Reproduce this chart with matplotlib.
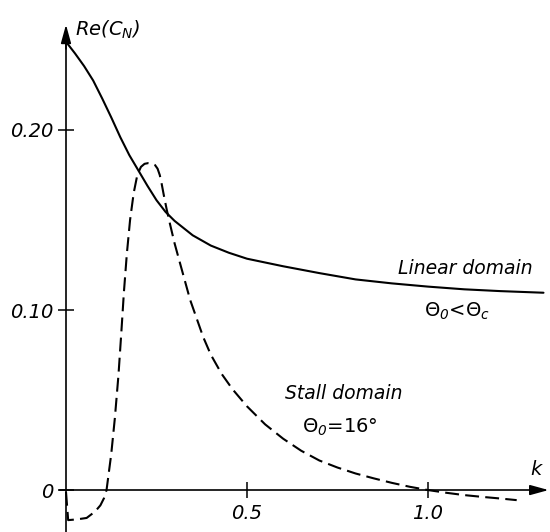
import matplotlib
matplotlib.use("Agg")
import matplotlib.pyplot as plt

plt.rcParams['font.family'] = ['DejaVu Sans']
plt.rcParams['mathtext.fontset'] = 'custom'
plt.rcParams['mathtext.it'] = 'DejaVu Sans:italic'
plt.rcParams['mathtext.rm'] = 'DejaVu Sans:italic'
plt.rcParams['lines.scale_dashes'] = False

# Linear domain (solid)
k_linear = [0.0, 0.025, 0.05, 0.075, 0.10, 0.125, 0.15, 0.175, 0.2, 0.225,
            0.25, 0.275, 0.3, 0.35, 0.4, 0.45, 0.5, 0.6, 0.7, 0.8,
            0.9, 1.0, 1.1, 1.2, 1.319]
c_linear = [0.249, 0.2425, 0.2355, 0.2275, 0.2175, 0.207, 0.196, 0.186, 0.1775, 0.169,
            0.161, 0.1545, 0.1495, 0.1415, 0.1358, 0.1318, 0.1285, 0.1243, 0.1205, 0.117,
            0.1148, 0.113, 0.1115, 0.1105, 0.1096]

# Stall domain (dashed)
k_stall = [0.0, 0.006, 0.03, 0.057, 0.08, 0.095, 0.105, 0.112, 0.125, 0.135,
           0.145, 0.153, 0.16, 0.168, 0.177, 0.187, 0.197, 0.207, 0.217, 0.227,
           0.237, 0.246, 0.253, 0.259, 0.264, 0.27, 0.278, 0.287, 0.3, 0.315,
           0.343, 0.379, 0.4, 0.43, 0.46, 0.5, 0.55, 0.6, 0.65, 0.7,
           0.75, 0.8, 0.85, 0.9, 0.95, 1.0, 1.05, 1.1, 1.15, 1.2,
           1.245]
c_stall = [-0.001, -0.0167, -0.0163, -0.0155, -0.012, -0.0085, -0.0045, 0.0, 0.02, 0.04,
           0.064, 0.088, 0.11, 0.131, 0.150, 0.165, 0.175, 0.1795, 0.1812, 0.1816,
           0.1814, 0.1805, 0.1785, 0.175, 0.1704, 0.164, 0.156, 0.148, 0.137, 0.126,
           0.1056, 0.085, 0.0752, 0.0645, 0.056, 0.0465, 0.0365, 0.0285, 0.0218, 0.0164,
           0.0125, 0.0092, 0.0065, 0.004, 0.0018, 0.0, -0.0015, -0.0028, -0.0038, -0.0047,
           -0.0056]

xticks = [0.5, 1.0]
xticklabels = ['0.5', '1.0']
yticks = [0.0, 0.10, 0.20]
yticklabels = ['0', '0.10', '0.20']

fig = plt.figure(figsize=(5.5, 5.32), dpi=100)
ax = fig.add_axes([0, 0, 1, 1])
ax.set_xlim(-0.1823, 1.337)
ax.set_ylim(-0.0233, 0.2722)

for s in ['top', 'right']:
    ax.spines[s].set_visible(False)
ax.spines['left'].set_position(('data', 0))
ax.spines['bottom'].set_position(('data', 0))
ax.spines['left'].set_bounds(-0.0233, 0.25)
ax.spines['bottom'].set_bounds(-0.017, 1.31)
for s in ['left', 'bottom']:
    ax.spines[s].set_linewidth(1.2)

# arrow heads
ax.annotate('', xy=(0, 0.2585), xytext=(0, 0.245),
            arrowprops=dict(arrowstyle='-|>,head_length=0.8,head_width=0.22',
                            color='k', lw=1.2, mutation_scale=14, shrinkA=0, shrinkB=0))
ax.annotate('', xy=(1.333, 0), xytext=(1.29, 0),
            arrowprops=dict(arrowstyle='-|>,head_length=0.8,head_width=0.22',
                            color='k', lw=1.2, mutation_scale=14, shrinkA=0, shrinkB=0))

ax.set_xticks(xticks, labels=xticklabels)
ax.set_yticks(yticks, labels=yticklabels)
ax.tick_params(axis='both', direction='inout', length=12, width=1.1, labelsize=14)
ax.tick_params(axis='x', pad=4)
ax.tick_params(axis='y', pad=3)
for lab in ax.get_xticklabels() + ax.get_yticklabels():
    lab.set_fontstyle('italic')

ax.plot(k_linear, c_linear, color='k', lw=1.5, solid_capstyle='round',
        solid_joinstyle='round')
ax.plot(k_stall, c_stall, color='k', lw=1.5, dashes=(10, 4.5),
        dash_joinstyle='round')

ax.text(0.025, 0.2556, 'Re(C$_N$)', fontsize=14, style='italic', ha='left', va='center')
ax.text(1.298, 0.0115, 'k', fontsize=14, style='italic', ha='center', va='center')
ax.text(1.102, 0.1233, 'Linear domain', fontsize=13.5, style='italic', ha='center', va='center')
ax.text(1.079, 0.0994, 'Θ$_0$<Θ$_c$', fontsize=14, ha='center', va='center')
ax.text(0.7666, 0.0539, 'Stall domain', fontsize=13.5, style='italic', ha='center', va='center')
ax.text(0.757, 0.035, 'Θ$_0$=16°', fontsize=14, ha='center', va='center')

fig.savefig('out.png', dpi=100)
